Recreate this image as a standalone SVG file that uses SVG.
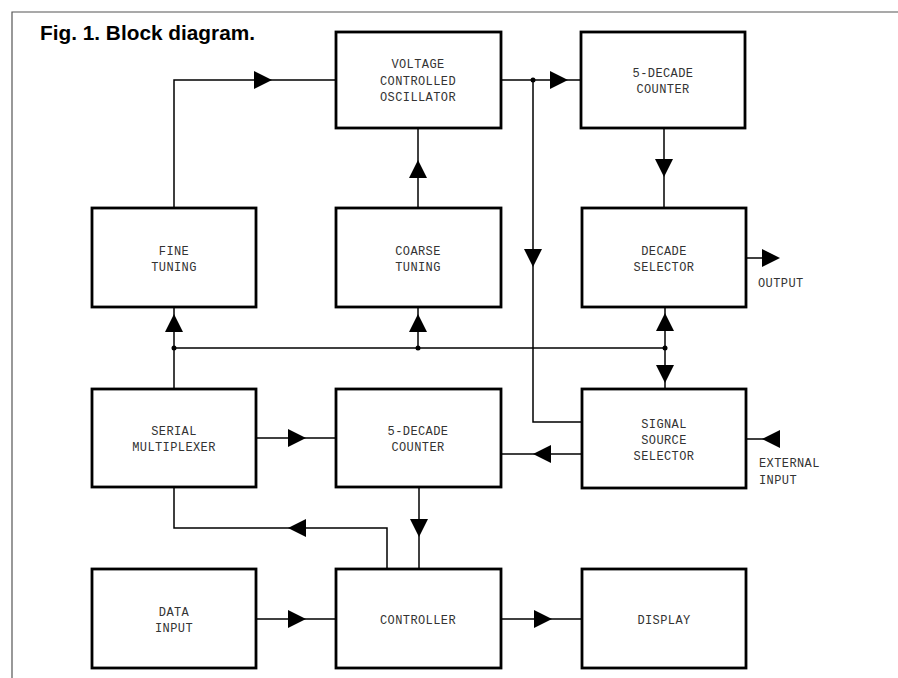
<svg xmlns="http://www.w3.org/2000/svg" xmlns:xlink="http://www.w3.org/1999/xlink" width="898" height="678" viewBox="0 0 898 678">
<style>
.frame{fill:none;stroke:#555;stroke-width:1.2}
.box{fill:#fff;stroke:#000;stroke-width:2.8}
.wire{fill:none;stroke:#000;stroke-width:1.5}
.ah{fill:#000}
.dot{fill:#000}
.lbl{font-family:"Liberation Mono","DejaVu Sans Mono",monospace;font-size:12px;letter-spacing:0.4px;fill:#333;text-anchor:middle}
.side{font-family:"Liberation Mono","DejaVu Sans Mono",monospace;font-size:12px;letter-spacing:0.4px;fill:#333}
.title{font-family:"Liberation Sans",Arial,sans-serif;font-size:21px;font-weight:bold;fill:#000}
</style>
<defs>
<path id="ah" d="M0,0 L-18,-9 L-18,9 Z"/>
</defs>
<rect width="898" height="678" fill="#fff"/>
<path class="frame" d="M12,678 V12 H898"/>
<text class="title" x="40" y="40" textLength="215" lengthAdjust="spacingAndGlyphs">Fig. 1. Block diagram.</text>

<g id="connectors">
<path class="wire" d="M174,208 V80 H336"/>
<path class="wire" d="M418,208 V128"/>
<path class="wire" d="M501,80 H581"/>
<path class="wire" d="M533,80 V422 H582"/>
<path class="wire" d="M664,128 V208"/>
<path class="wire" d="M746,258 H765"/>
<path class="wire" d="M174,348 H665"/>
<path class="wire" d="M174,389 V307"/>
<path class="wire" d="M418,348 V307"/>
<path class="wire" d="M665,307 V389"/>
<path class="wire" d="M256,438 H336"/>
<path class="wire" d="M582,454 H501"/>
<path class="wire" d="M746,439 H765"/>
<path class="wire" d="M419,487 V569"/>
<path class="wire" d="M387,569 V528 H174 V487"/>
<path class="wire" d="M256,619 H336"/>
<path class="wire" d="M501,619 H582"/>
<g class="ah">
<use xlink:href="#ah" transform="translate(272,80)"/>
<use xlink:href="#ah" transform="translate(418,160) rotate(-90)"/>
<use xlink:href="#ah" transform="translate(568,80)"/>
<use xlink:href="#ah" transform="translate(533,267) rotate(90)"/>
<use xlink:href="#ah" transform="translate(664,177) rotate(90)"/>
<use xlink:href="#ah" transform="translate(780,258)"/>
<use xlink:href="#ah" transform="translate(174,314) rotate(-90)"/>
<use xlink:href="#ah" transform="translate(418,314) rotate(-90)"/>
<use xlink:href="#ah" transform="translate(665,313) rotate(-90)"/>
<use xlink:href="#ah" transform="translate(665,383) rotate(90)"/>
<use xlink:href="#ah" transform="translate(306,438)"/>
<use xlink:href="#ah" transform="translate(533,454) rotate(180)"/>
<use xlink:href="#ah" transform="translate(762,439) rotate(180)"/>
<use xlink:href="#ah" transform="translate(419,537) rotate(90)"/>
<use xlink:href="#ah" transform="translate(288,528) rotate(180)"/>
<use xlink:href="#ah" transform="translate(306,619)"/>
<use xlink:href="#ah" transform="translate(552,619)"/>
</g>
<g class="dot">
<circle cx="533" cy="80" r="2.5"/>
<circle cx="174" cy="348" r="2.5"/>
<circle cx="418" cy="348" r="2.5"/>
<circle cx="665" cy="348" r="2.5"/>
</g>
<text class="side" x="758" y="287">OUTPUT</text>
<text class="side" x="759" y="467">EXTERNAL</text>
<text class="side" x="759" y="484">INPUT</text>
</g>

<g id="vco">
<rect class="box" x="336" y="32" width="165" height="96"/>
<text class="lbl" x="418" y="68">VOLTAGE</text>
<text class="lbl" x="418" y="85">CONTROLLED</text>
<text class="lbl" x="418" y="101">OSCILLATOR</text>
</g>
<g id="counter-top">
<rect class="box" x="581" y="32" width="164" height="96"/>
<text class="lbl" x="663" y="77">5-DECADE</text>
<text class="lbl" x="663" y="93">COUNTER</text>
</g>
<g id="fine-tuning">
<rect class="box" x="92" y="208" width="164" height="99"/>
<text class="lbl" x="174" y="255">FINE</text>
<text class="lbl" x="174" y="271">TUNING</text>
</g>
<g id="coarse-tuning">
<rect class="box" x="336" y="208" width="165" height="99"/>
<text class="lbl" x="418" y="255">COARSE</text>
<text class="lbl" x="418" y="271">TUNING</text>
</g>
<g id="decade-selector">
<rect class="box" x="582" y="208" width="164" height="99"/>
<text class="lbl" x="664" y="255">DECADE</text>
<text class="lbl" x="664" y="271">SELECTOR</text>
</g>
<g id="serial-mux">
<rect class="box" x="92" y="389" width="164" height="98"/>
<text class="lbl" x="174" y="435">SERIAL</text>
<text class="lbl" x="174" y="451">MULTIPLEXER</text>
</g>
<g id="counter-mid">
<rect class="box" x="336" y="389" width="165" height="98"/>
<text class="lbl" x="418" y="435">5-DECADE</text>
<text class="lbl" x="418" y="451">COUNTER</text>
</g>
<g id="signal-source">
<rect class="box" x="582" y="389" width="164" height="99"/>
<text class="lbl" x="664" y="428">SIGNAL</text>
<text class="lbl" x="664" y="444">SOURCE</text>
<text class="lbl" x="664" y="460">SELECTOR</text>
</g>
<g id="data-input">
<rect class="box" x="92" y="569" width="164" height="99"/>
<text class="lbl" x="174" y="616">DATA</text>
<text class="lbl" x="174" y="632">INPUT</text>
</g>
<g id="controller">
<rect class="box" x="336" y="569" width="165" height="99"/>
<text class="lbl" x="418" y="624">CONTROLLER</text>
</g>
<g id="display">
<rect class="box" x="582" y="569" width="164" height="99"/>
<text class="lbl" x="664" y="624">DISPLAY</text>
</g>
</svg>
